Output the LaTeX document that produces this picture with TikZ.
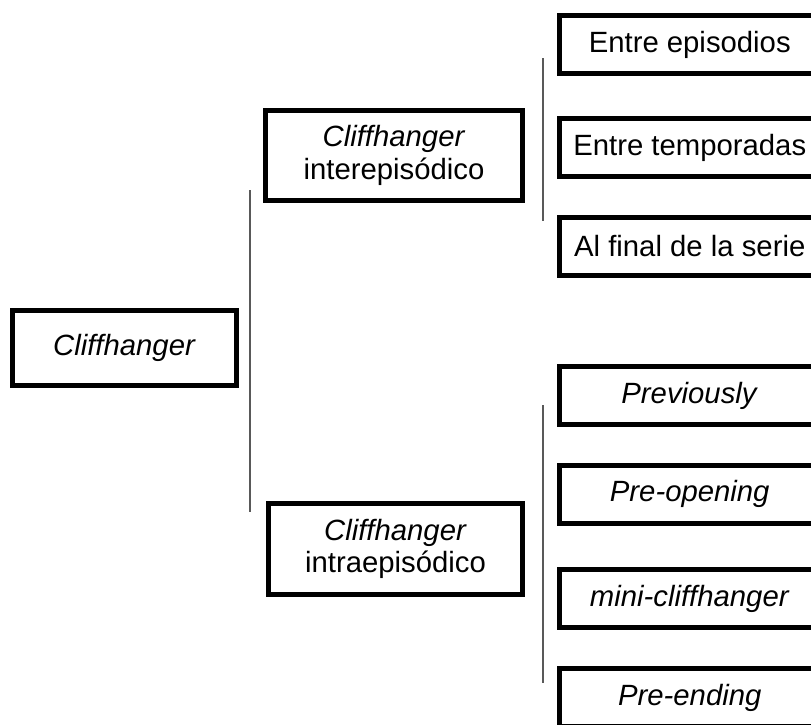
\documentclass[tikz,border=0pt]{standalone}
\usepackage{fontspec}
\setmainfont{Liberation Sans}
\begin{document}
\begin{tikzpicture}[x=1pt,y=-1pt,
  box/.style={draw=black,line width=5pt,fill=white,inner sep=0pt,align=center,
    font=\fontsize{29.3}{32.5}\selectfont},
  leaf/.style={box,minimum width=260.5pt,minimum height=58pt},
  bar/.style={draw=black!65,line width=2.5pt}]
\useasboundingbox (0,0) rectangle (811,724);
\clip (0,0) rectangle (811,724);
\fill[white] (0,0) rectangle (811,724);
% vertical bars
\coordinate (b1t) at (250,190); \coordinate (b1b) at (250,512);
\coordinate (b2t) at (543,58);  \coordinate (b2b) at (543,221);
\coordinate (b3t) at (543,405); \coordinate (b3b) at (543,683);
\draw[bar] (b1t) -- (b1b);
\draw[bar] (b2t) -- (b2b);
\draw[bar] (b3t) -- (b3b);
% nodes
\node[box,minimum width=224pt,minimum height=75pt] (root) at (124.5,348) {\textit{Cliffhanger}};
\node[box,minimum width=257pt,minimum height=90pt] (inter) at (394,155.5) {\textit{Cliffhanger}\\interepisódico};
\node[box,minimum width=254pt,minimum height=91pt] (intra) at (395.5,549) {\textit{Cliffhanger}\\intraepisódico};
\node[leaf] (e1) at (689.75,44.5) {Entre episodios};
\node[leaf] (e2) at (689.75,147.5) {Entre temporadas};
\node[leaf] (e3) at (689.75,246) {Al final de la serie};
\node[leaf] (p1) at (689.75,395.5) {\textit{Previously}};
\node[leaf] (p2) at (689.75,494) {\textit{Pre-opening}};
\node[leaf] (p3) at (689.75,598.5) {\textit{mini-cliffhanger}};
\node[leaf] (p4) at (689.75,697.5) {\textit{Pre-ending}};
\end{tikzpicture}
\end{document}
